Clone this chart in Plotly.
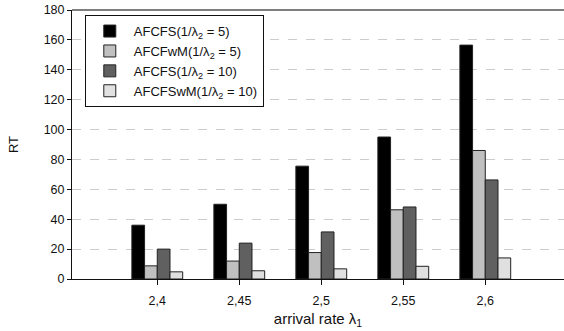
import plotly.graph_objects as go

rates = [2.40, 2.45, 2.50, 2.55, 2.60]
tick_labels = ["2,4", "2,45", "2,5", "2,55", "2,6"]

afcfs_5 = [36, 50, 75.5, 95, 156.5]
afcfwm_5 = [8.8, 12, 17.7, 46.3, 86]
afcfs_10 = [20, 24, 31.5, 48.2, 66.3]
afcfswm_10 = [4.8, 5.5, 6.8, 8.5, 14.1]

series = [
    ("AFCFS(1/λ<sub>2</sub> = 5)", afcfs_5, "#000000"),
    ("AFCFwM(1/λ<sub>2</sub> = 5)", afcfwm_5, "#c0c0c0"),
    ("AFCFS(1/λ<sub>2</sub> = 10)", afcfs_10, "#606060"),
    ("AFCFSwM(1/λ<sub>2</sub> = 10)", afcfswm_10, "#e0e0e0"),
]

fig = go.Figure()
for name, vals, col in series:
    fig.add_trace(go.Bar(
        x=rates, y=vals, name=name,
        marker=dict(color=col, line=dict(color="#222222", width=1)),
    ))

font = "Liberation Sans, Arial, sans-serif"
fig.update_layout(
    width=564, height=331,
    margin=dict(l=72, r=0, t=10, b=52),
    plot_bgcolor="white", paper_bgcolor="white",
    barmode="group", bargap=0.38, bargroupgap=0,
    font=dict(family=font, size=12, color="#111111"),
    legend=dict(
        x=0.026, y=0.981, xanchor="left", yanchor="top",
        bgcolor="white", bordercolor="#111111", borderwidth=1,
        font=dict(size=13), traceorder="normal", itemwidth=38,
        tracegroupgap=0,
    ),
    xaxis=dict(
        range=[2.348, 2.648], tickvals=rates, ticktext=tick_labels,
        showgrid=False, zeroline=False,
        showline=True, linecolor="#111111", linewidth=1,
        ticks="outside", ticklen=5, tickcolor="#111111",
        tickfont=dict(size=12.5), ticklabelstandoff=5,
        title=dict(text="arrival rate λ<sub>1</sub>", font=dict(size=15), standoff=6),
    ),
    yaxis=dict(
        range=[0, 180], dtick=20,
        showgrid=True, gridcolor="#cccccc", griddash="dash", gridwidth=1,
        zeroline=False,
        showline=True, linecolor="#111111", linewidth=1,
        ticks="outside", ticklen=4, tickcolor="#111111",
        tickfont=dict(size=12.5),
        title=dict(text="RT", font=dict(size=13), standoff=22),
    ),
    shapes=[dict(type="line", xref="paper", yref="paper", x0=0, x1=1, y0=1, y1=1,
                 line=dict(color="#555555", width=1.5))],
)

fig.write_html("out.html", config={"displayModeBar": False},
               post_script="document.body.style.margin='0';")
